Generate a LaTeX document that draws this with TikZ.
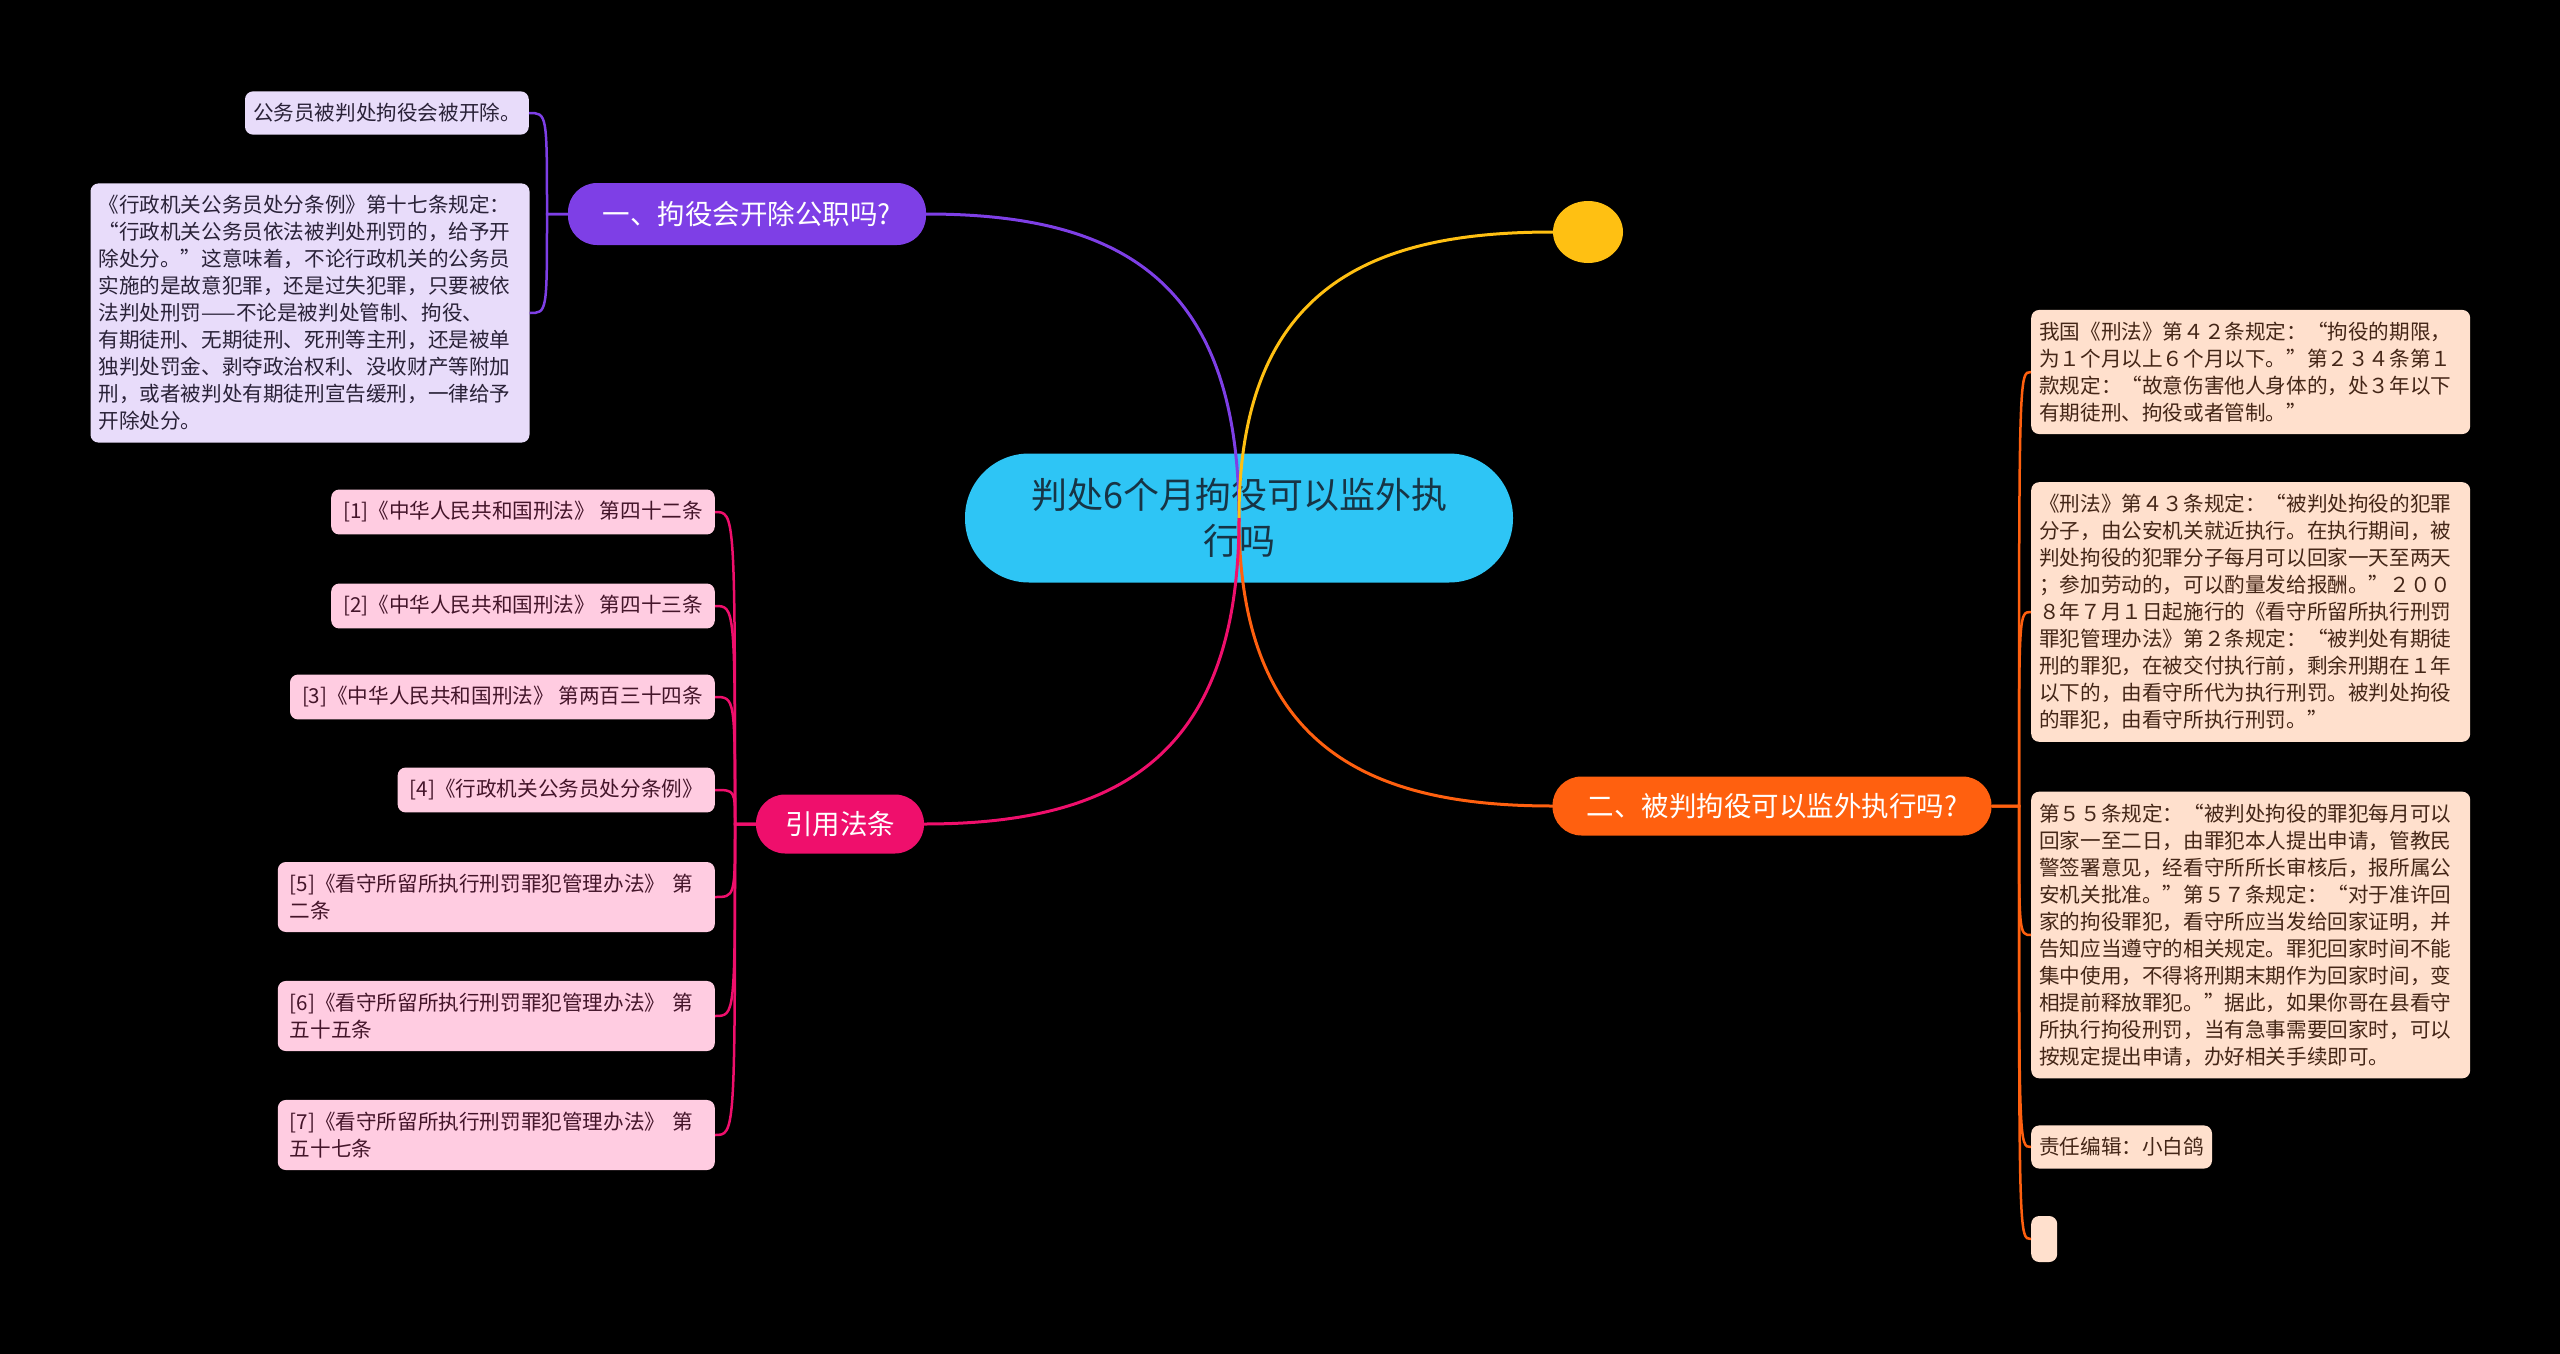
\documentclass[tikz,border=0pt]{standalone}
\usepackage{fontspec}
\setmainfont{Noto Sans CJK SC}
\usetikzlibrary{shapes.geometric}
\definecolor{cBlue}{HTML}{2EC5F5}
\definecolor{cBlueTxt}{HTML}{173445}
\definecolor{cPur}{HTML}{7E3FE6}
\definecolor{cPurLeaf}{HTML}{E8DCFA}
\definecolor{cPurTxt}{HTML}{2A2238}
\definecolor{cPink}{HTML}{EF0F6C}
\definecolor{cPinkLeaf}{HTML}{FFCCE1}
\definecolor{cPinkTxt}{HTML}{44152A}
\definecolor{cOra}{HTML}{FF600F}
\definecolor{cOraLeaf}{HTML}{FFE0CD}
\definecolor{cOraTxt}{HTML}{442617}
\definecolor{cYel}{HTML}{FFC012}
\tikzset{
  mainline/.style={line width=3pt},
  leafline/.style={line width=2.5pt},
  branchbox/.style={rounded corners=29pt, inner xsep=0pt, inner ysep=0pt, text=white,
    font=\fontsize{27.5}{32}\selectfont},
  leafbox/.style={rounded corners=8pt, inner xsep=8pt, inner ysep=12pt,
    font=\fontsize{20.6}{27}\selectfont, align=left},
  purleaf/.style={leafbox, fill=cPurLeaf, text=cPurTxt},
  pinkleaf/.style={leafbox, fill=cPinkLeaf, text=cPinkTxt, inner xsep=12pt},
  oraleaf/.style={leafbox, fill=cOraLeaf, text=cOraTxt},
}
\begin{document}
\begin{tikzpicture}[x=1pt,y=-1pt]
\fill[black] (0,0) rectangle (2560,1354);
\useasboundingbox (0,0) rectangle (2560,1354);

% center
\node[fill=cBlue, rounded corners=64pt, minimum width=548pt, minimum height=129pt,
  text=cBlueTxt, font=\fontsize{36}{46}\selectfont, align=center] (C) at (1239,518)
  {判处6个月拘役可以监外执\\行吗};

% main connectors
\draw[mainline, cPur] (C.center) .. controls +(0,-238) and +(194,0) .. (926,214) coordinate (B1e);
\draw[mainline, cYel] (C.center) .. controls +(0,-238) and +(-173,0) .. (1553,232) coordinate (Yw);
\draw[mainline, cOra] (C.center) .. controls +(0,238) and +(-173,0) .. (1553,806) coordinate (B2w);
\draw[mainline, cPink] (C.center) .. controls +(0,238) and +(194,0) .. (924,824) coordinate (B3e);

% branch nodes
\node[branchbox, fill=cPur, minimum width=358pt, minimum height=62pt] (B1) at (747,214) {一、拘役会开除公职吗?};
\node[ellipse, fill=cYel, minimum width=70pt, minimum height=62pt, inner sep=0pt] (Y) at (1588,232) {};
\node[branchbox, fill=cOra, minimum width=439pt, minimum height=59pt] (B2) at (1772,806) {二、被判拘役可以监外执行吗?};
\node[branchbox, fill=cPink, minimum width=168pt, minimum height=59pt] (B3) at (840,824) {引用法条};

% purple leaves
\node[purleaf, anchor=east] (P1) at (529,113) {公务员被判处拘役会被开除。};
\node[purleaf, text width=423pt] (P2) at (310,313) {《行政机关公务员处分条例》第十七条规定：\\
“行政机关公务员依法被判处刑罚的，给予开\\
除处分。”这意味着，不论行政机关的公务员\\
实施的是故意犯罪，还是过失犯罪，只要被依\\
法判处刑罚——不论是被判处管制、拘役、\\
有期徒刑、无期徒刑、死刑等主刑，还是被单\\
独判处罚金、剥夺政治权利、没收财产等附加\\
刑，或者被判处有期徒刑宣告缓刑，一律给予\\
开除处分。};
\foreach \n in {P1,P2}
  \draw[leafline, cPur] (B1.west) -- (547,214) .. controls (547,0 |- \n.east) and (547,0 |- \n.east) .. (\n.east);

% pink leaves
\node[pinkleaf, anchor=east] (R1) at (715,512) {[1]《中华人民共和国刑法》 第四十二条};
\node[pinkleaf, anchor=east] (R2) at (715,606) {[2]《中华人民共和国刑法》 第四十三条};
\node[pinkleaf, anchor=east] (R3) at (715,697) {[3]《中华人民共和国刑法》 第两百三十四条};
\node[pinkleaf, anchor=east] (R4) at (715,790) {[4]《行政机关公务员处分条例》};
\node[pinkleaf, anchor=east, text width=413pt] (R5) at (715,897) {[5]《看守所留所执行刑罚罪犯管理办法》 第\\二条};
\node[pinkleaf, anchor=east, text width=413pt] (R6) at (715,1016) {[6]《看守所留所执行刑罚罪犯管理办法》 第\\五十五条};
\node[pinkleaf, anchor=east, text width=413pt] (R7) at (715,1135) {[7]《看守所留所执行刑罚罪犯管理办法》 第\\五十七条};
\foreach \n in {R1,R2,R3,R4,R5,R6,R7}
  \draw[leafline, cPink] (B3.west) -- (735,824) .. controls (735,0 |- \n.east) and (735,0 |- \n.east) .. (\n.east);

% orange leaves
\node[oraleaf, anchor=west, text width=423pt] (O1) at (2031,372) {我国《刑法》第４２条规定：“拘役的期限，\\
为１个月以上６个月以下。”第２３４条第１\\
款规定：“故意伤害他人身体的，处３年以下\\
有期徒刑、拘役或者管制。”};
\node[oraleaf, anchor=west, text width=423pt] (O2) at (2031,612) {《刑法》第４３条规定：“被判处拘役的犯罪\\
分子，由公安机关就近执行。在执行期间，被\\
判处拘役的犯罪分子每月可以回家一天至两天\\
；参加劳动的，可以酌量发给报酬。”２００\\
８年７月１日起施行的《看守所留所执行刑罚\\
罪犯管理办法》第２条规定：“被判处有期徒\\
刑的罪犯，在被交付执行前，剩余刑期在１年\\
以下的，由看守所代为执行刑罚。被判处拘役\\
的罪犯，由看守所执行刑罚。”};
\node[oraleaf, anchor=west, text width=423pt] (O3) at (2031,935) {第５５条规定：“被判处拘役的罪犯每月可以\\
回家一至二日，由罪犯本人提出申请，管教民\\
警签署意见，经看守所所长审核后，报所属公\\
安机关批准。”第５７条规定：“对于准许回\\
家的拘役罪犯，看守所应当发给回家证明，并\\
告知应当遵守的相关规定。罪犯回家时间不能\\
集中使用，不得将刑期末期作为回家时间，变\\
相提前释放罪犯。”据此，如果你哥在县看守\\
所执行拘役刑罚，当有急事需要回家时，可以\\
按规定提出申请，办好相关手续即可。};
\node[oraleaf, anchor=west] (O4) at (2031,1147) {责任编辑：小白鸽};
\node[fill=cOraLeaf, rounded corners=8pt, inner sep=0pt, minimum width=26pt, minimum height=46pt, anchor=west] (O5) at (2031,1239) {};
\foreach \n in {O1,O2,O3,O4,O5}
  \draw[leafline, cOra] (B2.east) -- (2019,806) .. controls (2019,0 |- \n.west) and (2019,0 |- \n.west) .. (\n.west);
\end{tikzpicture}
\end{document}
